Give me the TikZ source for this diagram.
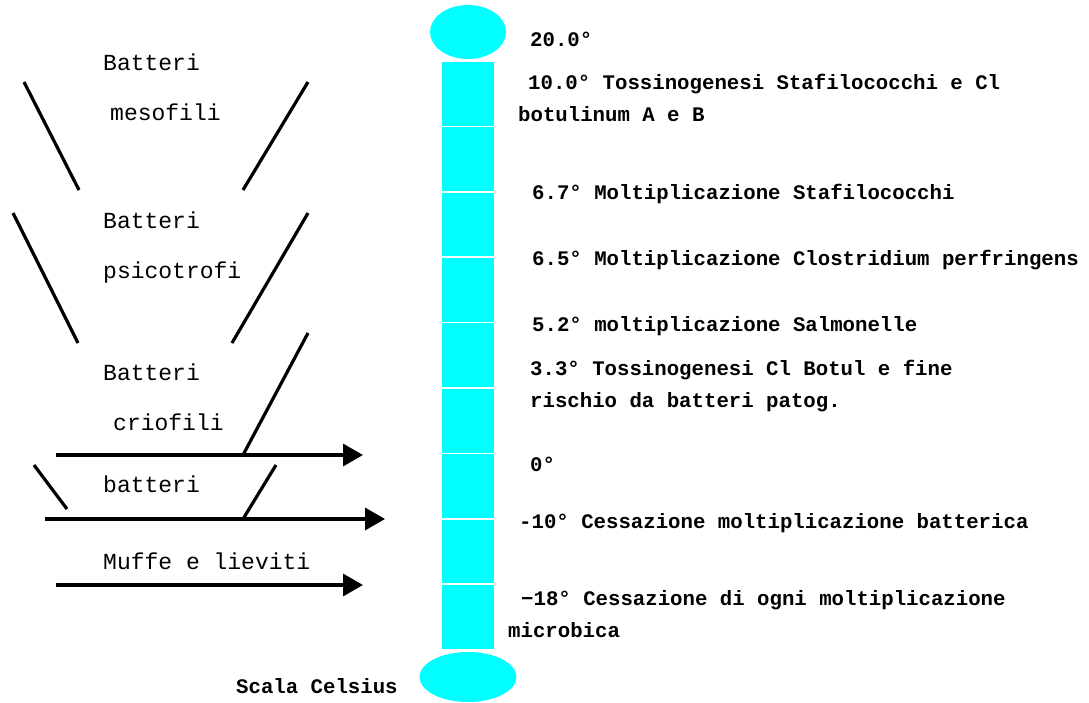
\documentclass[tikz,border=0pt]{standalone}
\usepackage{fontspec}
\setmonofont{Liberation Mono}
\usetikzlibrary{arrows.meta,shapes.geometric}
\definecolor{thermo}{RGB}{0,255,255}
\begin{document}
\begin{tikzpicture}[x=1pt,y=-1pt,
 lbl/.style={font=\ttfamily\fontsize{23}{23}\selectfont, anchor=base west, inner sep=0},
 temp/.style={font=\ttfamily\bfseries\fontsize{20.7}{20.7}\selectfont, anchor=base west, inner sep=0},
 ln/.style={line width=3.2pt},
 arr/.style={line width=3.5pt, -{Triangle[length=20pt,width=22pt]}},
 bulb/.style={ellipse, fill=thermo, draw=none, inner sep=0},
 seg/.style={fill=thermo, draw=white, line width=1.5pt}]
\useasboundingbox (0,0) rectangle (1089,702);
% thermometer
\foreach \i in {0,...,8} {
  \path[seg] (441,{61+65.4*\i}) rectangle (495,{61+65.4*(\i+1)});
}
\node[bulb, minimum width=76pt, minimum height=54pt] (top) at (468,32) {};
\node[bulb, minimum width=97pt, minimum height=50pt] (bot) at (468,677) {};
% temperature labels
\node[temp] (t20) at (530,46) {20.0°};
\node[temp] (t10) at (528,89) {10.0° Tossinogenesi Stafilococchi e Cl};
\node[temp] (t10b) at (518,121) {botulinum A e B};
\node[temp] (t67) at (532,199) {6.7° Moltiplicazione Stafilococchi};
\node[temp] (t65) at (532,265) {6.5° Moltiplicazione Clostridium perfringens};
\node[temp] (t52) at (532,331) {5.2° moltiplicazione Salmonelle};
\node[temp] (t33) at (530,375) {3.3° Tossinogenesi Cl Botul e fine};
\node[temp] (t33b) at (530,407) {rischio da batteri patog.};
\node[temp] (t0) at (530,471) {0°};
\node[temp] (tm10) at (519,528) {-10° Cessazione moltiplicazione batterica};
\node[temp] (tm18) at (521,605) {−18° Cessazione di ogni moltiplicazione};
\node[temp] (tm18b) at (508,637) {microbica};
\node[temp] (scala) at (236,693) {Scala Celsius};
% left labels
\node[lbl] (b1) at (103,70) {Batteri};
\node[lbl] (b1b) at (110,120) {mesofili};
\node[lbl] (b2) at (103,228) {Batteri};
\node[lbl] (b2b) at (103,278) {psicotrofi};
\node[lbl] (b3) at (103,380) {Batteri};
\node[lbl] (b3b) at (113,430) {criofili};
\node[lbl] (b4) at (103,492) {batteri};
\node[lbl] (b5) at (103,569) {Muffe e lieviti};
% brackets
\draw[ln] (24,82) -- (79,190);
\draw[ln] (308,82) -- (243,190);
\draw[ln] (13,213) -- (78,343);
\draw[ln] (308,213) -- (232,343);
\draw[ln] (308,333) -- (243,455);
\draw[ln] (34,465) -- (67,509);
\draw[ln] (276,465) -- (243,519);
% arrows
\coordinate (a1s) at (56,455); \coordinate (a1e) at (363,455);
\coordinate (a2s) at (45,519); \coordinate (a2e) at (385,519);
\coordinate (a3s) at (56,585); \coordinate (a3e) at (363,585);
\draw[arr] (a1s) -- (a1e);
\draw[arr] (a2s) -- (a2e);
\draw[arr] (a3s) -- (a3e);
\end{tikzpicture}
\end{document}
